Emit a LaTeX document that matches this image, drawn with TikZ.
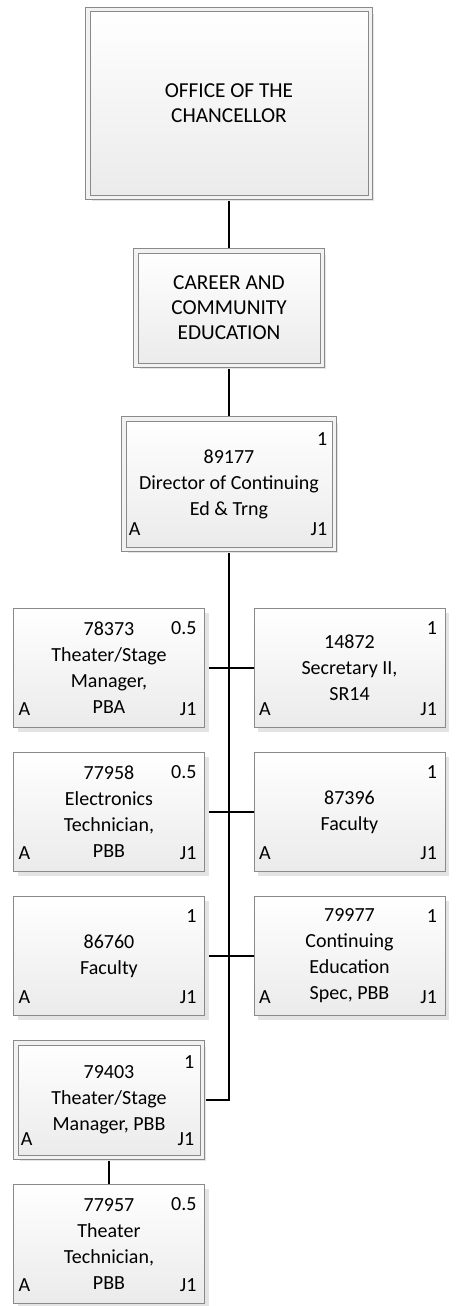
\documentclass[tikz,border=0pt]{standalone}
\usepackage{fontspec}
\setmainfont{Carlito}
\usetikzlibrary{shadows,backgrounds}
\definecolor{boxline}{HTML}{8A8A8A}
\definecolor{shadowc}{HTML}{E4E4E4}
\tikzset{
  unitbox/.style={draw=boxline, line width=1pt, top color=white, bottom color=black!8,
    align=center, inner sep=0pt, outer sep=0pt, font=\fontsize{20}{26}\selectfont,
    drop shadow={shadow xshift=4pt, shadow yshift=-4pt, fill=shadowc, opacity=1}},
  posbox/.style={unitbox, minimum width=191pt, minimum height=119pt},
  parentbox/.style={unitbox, double=white!95!black, double distance=3.5pt, line width=1pt},
  orgfont/.style={font=\fontsize{21.3}{25}\selectfont},
  corner/.style={font=\fontsize{20}{24}\selectfont, inner sep=0pt, outer sep=0pt},
  link/.style={line width=1.6pt, black},
}
\newcommand{\poscorners}[4]{%
  \node[corner, anchor=base east] (#1-fte) at ([shift={(-8,26)}]#1.north east) {#2};
  \node[corner, anchor=base west] (#1-st) at ([shift={(5,-12)}]#1.south west) {#3};
  \node[corner, anchor=base east] (#1-jc) at ([shift={(-8,-12)}]#1.south east) {#4};
}
\begin{document}
\begin{tikzpicture}[x=1pt, y=-1pt]
\useasboundingbox (0,0) rectangle (457,1306);

\node[parentbox, orgfont, minimum width=282.5pt, minimum height=187.5pt]
  (office) at (229,103.5) {OFFICE OF THE\\CHANCELLOR};
\node[parentbox, orgfont, minimum width=186.5pt, minimum height=114.5pt]
  (career) at (229,308) {CAREER AND\\COMMUNITY\\EDUCATION};
\node[parentbox, minimum width=210.5pt, minimum height=130.5pt]
  (dir) at (229,484) {89177\\Director of Continuing\\Ed \& Trng};
\node[corner, anchor=base east] (dir-fte) at ([shift={(-7,27)}]dir.north east) {1};
\node[corner, anchor=base west] (dir-st) at ([shift={(5,-14)}]dir.south west) {A};
\node[corner, anchor=base east] (dir-jc) at ([shift={(-7,-14)}]dir.south east) {J1};

% row 1
\node[posbox] (r1l) at (109,668) {78373\\Theater/Stage\\Manager,\\PBA};
\poscorners{r1l}{0.5}{A}{J1}
\node[posbox] (r1r) at (349.5,668) {14872\\Secretary II,\\SR14};
\poscorners{r1r}{1}{A}{J1}
% row 2
\node[posbox] (r2l) at (109,812) {77958\\Electronics\\Technician,\\PBB};
\poscorners{r2l}{0.5}{A}{J1}
\node[posbox] (r2r) at (349.5,812) {87396\\Faculty};
\poscorners{r2r}{1}{A}{J1}
% row 3
\node[posbox] (r3l) at (109,956) {86760\\Faculty};
\poscorners{r3l}{1}{A}{J1}
\node[posbox] (r3r) at (349.5,956) {79977\\Continuing\\Education\\Spec, PBB};
\poscorners{r3r}{1}{A}{J1}
% row 4
\node[parentbox, minimum width=186.5pt, minimum height=114.5pt] (r4l) at (109,1100)
  {79403\\Theater/Stage\\Manager, PBB};
\poscorners{r4l}{1}{A}{J1}
% row 5
\node[posbox] (r5) at (109,1244) {77957\\Theater\\Technician,\\PBB};
\poscorners{r5}{0.5}{A}{J1}

\begin{scope}[on background layer]
\draw[link] (office) -- (career);
\draw[link] (career) -- (dir);
\draw[link] (dir.south) |- (r4l.east);
\draw[link] (r1l.east) -- (r1r.west);
\draw[link] (r2l.east) -- (r2r.west);
\draw[link] (r3l.east) -- (r3r.west);
\draw[link] (r4l) -- (r5);
\end{scope}
\end{tikzpicture}
\end{document}
